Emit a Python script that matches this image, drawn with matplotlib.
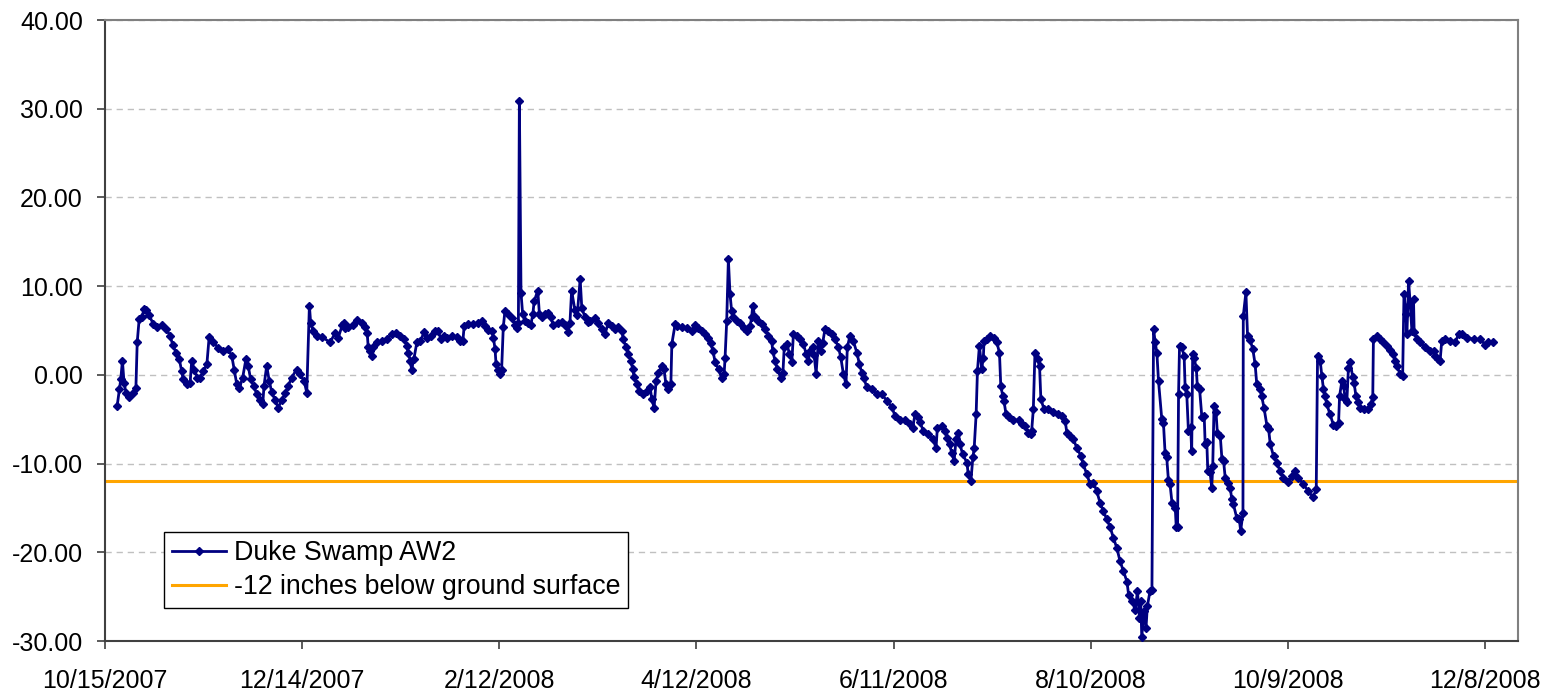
import datetime as dt
import numpy as np
import matplotlib
matplotlib.use("Agg")
import matplotlib.pyplot as plt
import matplotlib.dates as mdates
from matplotlib.ticker import FixedLocator, FuncFormatter

# well record: days since 10/15/2007 and water level (inches)
start = dt.datetime(2007, 10, 15)
day = [
    3.7, 4.4, 4.8, 5.3, 5.8, 6.4, 7.4, 8.4, 9.4, 9.8,
    10.4, 11.2, 11.9, 12.5, 13.5, 14.7, 15.9, 17.3, 18.6, 19.8,
    20.6, 21.6, 22.6, 23.3, 23.8, 24.9, 25.9, 26.4, 27.2, 28.1,
    28.9, 29.9, 31.0, 31.7, 33.0, 34.5, 36.0, 37.5, 38.6, 39.3,
    40.1, 40.9, 41.9, 42.9, 43.6, 44.3, 45.3, 46.2, 47.2, 48.0,
    48.4, 49.2, 50.0, 50.7, 51.7, 52.7, 53.8, 54.8, 55.8, 56.8,
    58.3, 59.3, 60.6, 61.4, 62.2, 62.6, 63.4, 64.4, 66.0, 68.5,
    70.0, 71.0, 72.2, 72.7, 73.0, 74.0, 75.6, 76.8, 78.1, 79.1,
    79.8, 80.1, 80.7, 81.2, 81.7, 82.7, 84.2, 85.7, 87.3, 88.6,
    89.8, 91.0, 91.8, 92.3, 92.9, 93.3, 94.0, 94.9, 95.9, 97.2,
    98.1, 99.1, 100.4, 101.4, 102.2, 103.2, 104.2, 105.5, 107.0, 108.0,
    108.9, 109.3, 110.6, 112.1, 113.6, 114.6, 115.7, 116.7, 117.7, 118.2,
    118.7, 119.0, 119.7, 120.2, 120.7, 121.2, 121.7, 122.7, 123.8, 124.8,
    125.3, 125.8, 126.1, 126.6, 127.1, 127.8, 128.8, 129.6, 130.2, 130.6,
    131.7, 132.2, 132.9, 133.9, 134.9, 135.6, 136.4, 138.0, 139.0, 140.0,
    141.0, 141.5, 142.0, 143.0, 143.7, 144.6, 145.1, 146.1, 147.1, 147.6,
    149.1, 150.1, 151.2, 152.2, 153.2, 154.2, 155.2, 156.2, 157.3, 157.7,
    158.6, 159.3, 160.0, 160.6, 161.0, 161.8, 162.6, 163.6, 164.9, 165.9,
    166.4, 167.1, 167.7, 168.4, 169.4, 170.1, 170.7, 171.4, 172.2, 172.5,
    173.5, 174.2, 175.5, 177.0, 178.6, 179.6, 180.6, 181.6, 182.6, 183.6,
    184.3, 185.0, 185.7, 186.7, 187.7, 188.4, 188.7, 189.2, 189.7, 190.2,
    190.7, 191.2, 192.3, 193.3, 194.5, 195.5, 196.3, 196.8, 197.1, 197.8,
    198.8, 199.9, 200.9, 201.9, 202.9, 203.2, 203.9, 204.6, 205.6, 206.3,
    206.7, 207.5, 208.3, 209.0, 209.5, 210.5, 211.5, 212.5, 213.4, 214.0,
    214.6, 215.4, 215.8, 216.4, 217.1, 217.8, 218.4, 219.1, 220.1, 221.2,
    222.2, 223.2, 223.9, 224.7, 225.5, 225.9, 226.7, 227.7, 228.8, 229.6,
    230.3, 231.0, 231.8, 233.3, 234.9, 236.4, 237.9, 239.4, 240.4, 242.0,
    243.5, 245.0, 245.8, 246.5, 247.5, 248.0, 249.0, 250.6, 251.9, 252.9,
    253.3, 254.6, 255.7, 256.2, 257.0, 257.7, 258.4, 259.0, 259.7, 260.2,
    261.0, 262.3, 262.7, 263.5, 264.1, 264.5, 265.1, 265.5, 266.1, 266.8,
    267.3, 267.5, 268.3, 269.3, 270.4, 271.4, 272.2, 272.6, 273.2, 273.6,
    274.2, 275.2, 276.4, 278.0, 279.0, 280.0, 281.0, 281.7, 282.0, 282.5,
    283.0, 283.8, 284.4, 284.8, 285.8, 287.1, 288.6, 290.1, 291.2, 292.2,
    292.7, 293.7, 294.7, 295.7, 297.0, 297.7, 298.8, 299.8, 300.8, 301.8,
    302.8, 303.8, 304.9, 305.9, 306.9, 307.9, 308.9, 309.9, 311.0, 311.5,
    312.5, 313.5, 314.2, 314.8, 315.2, 315.5, 316.2, 316.8, 317.2, 318.0,
    318.6, 319.1, 319.6, 320.1, 320.6, 321.6, 322.1, 322.6, 323.1, 323.6,
    324.1, 324.7, 325.7, 326.0, 326.4, 326.7, 327.0, 327.7, 328.4, 328.7,
    329.2, 329.7, 330.4, 330.7, 331.0, 331.4, 332.1, 332.4, 333.1, 333.8,
    334.5, 334.8, 335.3, 335.6, 336.3, 336.8, 337.1, 337.5, 338.1, 338.5,
    339.4, 339.9, 340.4, 340.9, 341.9, 342.4, 342.9, 343.4, 344.4, 345.2,
    345.6, 346.3, 346.4, 347.2, 347.7, 348.5, 349.3, 350.0, 350.5, 351.5,
    352.0, 352.7, 353.6, 354.1, 354.6, 355.6, 356.6, 357.6, 358.6, 360.1,
    361.2, 362.2, 363.2, 364.7, 366.2, 367.6, 368.6, 369.0, 369.8, 370.3,
    370.8, 371.3, 371.8, 372.8, 373.8, 374.6, 375.4, 375.7, 376.4, 376.9,
    377.4, 377.9, 378.4, 378.9, 379.7, 380.1, 380.7, 381.4, 382.0, 383.0,
    384.5, 385.2, 385.8, 386.0, 387.0, 388.0, 389.0, 390.1, 391.1, 392.1,
    392.6, 393.1, 394.1, 394.9, 395.3, 395.9, 396.2, 396.7, 397.2, 397.7,
    398.2, 398.4, 399.2, 400.2, 401.8, 403.3, 404.3, 404.8, 405.8, 406.3,
    406.8, 407.8, 409.4, 410.9, 411.9, 412.9, 414.4, 416.5, 418.5, 420.0,
    421.0, 422.5,
]
level = [
    -3.5, -1.6, -0.5, 1.6, -0.9, -2.0, -2.5, -2.1, -1.5, 3.65,
    6.3, 6.5, 7.4, 7.3, 6.7, 5.7, 5.4, 5.6, 5.2, 4.4,
    3.4, 2.5, 1.8, 0.45, -0.5, -1.05, -0.9, 1.6, 0.6, -0.3,
    -0.3, 0.4, 1.2, 4.3, 3.7, 3.0, 2.7, 2.9, 2.1, 0.6,
    -1.05, -1.5, -0.3, 1.8, 1.0, -0.5, -1.3, -2.2, -2.8, -3.3,
    -1.2, 1.0, -0.7, -1.9, -2.8, -3.7, -2.8, -2.1, -1.2, -0.3,
    0.6, 0.1, -0.7, -2.0, 7.8, 5.8, 4.9, 4.4, 4.3, 3.65,
    4.7, 4.2, 5.6, 5.9, 5.3, 5.4, 5.6, 6.2, 5.8, 5.4,
    4.7, 3.1, 2.7, 2.1, 3.1, 3.65, 3.8, 4.0, 4.6, 4.75,
    4.4, 4.0, 3.3, 2.5, 1.6, 0.6, 1.8, 3.65, 3.8, 4.85,
    4.2, 4.4, 5.0, 5.0, 4.0, 4.4, 4.2, 4.4, 4.3, 3.8,
    3.8, 5.5, 5.7, 5.7, 5.9, 6.1, 5.5, 5.1, 5.0, 4.2,
    2.9, 1.2, 0.6, 0.1, 0.6, 5.35, 7.2, 6.9, 6.4, 5.65,
    5.3, 5.8, 30.9, 9.2, 6.85, 6.1, 5.8, 5.65, 6.85, 8.3,
    9.5, 6.85, 6.5, 6.85, 7.0, 6.5, 5.65, 5.8, 6.0, 5.65,
    4.8, 5.9, 9.5, 7.3, 6.7, 10.8, 7.5, 6.5, 6.0, 6.1,
    6.4, 5.9, 5.15, 4.65, 5.9, 5.5, 5.15, 5.4, 5.0, 4.0,
    3.1, 2.35, 1.6, 0.65, -0.2, -1.05, -1.8, -2.2, -1.8, -1.4,
    -2.75, -3.7, -0.7, 0.25, 1.0, 0.65, -1.05, -1.6, -1.05, 3.5,
    5.7, 5.5, 5.4, 5.25, 5.0, 5.6, 5.25, 5.0, 4.6, 4.1,
    3.6, 2.7, 1.4, 0.65, -0.4, 0.05, 1.95, 6.1, 13.05, 9.1,
    7.2, 6.5, 6.1, 5.8, 5.25, 5.0, 5.5, 6.5, 7.8, 6.5,
    6.1, 5.75, 5.15, 4.4, 3.8, 2.7, 1.6, 0.65, -0.3, 0.2,
    3.1, 3.5, 2.35, 1.4, 4.6, 4.4, 4.0, 3.5, 2.35, 1.6,
    2.7, 3.1, 2.2, 0.15, 3.85, 2.7, 3.6, 5.15, 5.0, 4.6,
    4.0, 3.1, 2.0, 0.1, -1.05, 3.1, 4.4, 3.85, 2.5, 1.2,
    0.25, -0.4, -1.4, -1.6, -2.2, -2.2, -2.9, -3.6, -4.6, -5.1,
    -5.1, -5.5, -5.95, -4.45, -4.8, -5.3, -6.3, -6.7, -7.25, -8.2,
    -5.95, -5.8, -6.3, -7.1, -7.85, -8.8, -9.7, -7.25, -6.5, -7.85,
    -8.95, -9.9, -11.2, -12.0, -9.3, -8.3, -4.45, 0.45, 3.3, 0.7,
    1.95, 3.85, 4.05, 4.4, 4.2, 3.65, 2.5, -1.25, -2.35, -3.0,
    -4.45, -4.8, -5.1, -5.1, -5.5, -5.8, -6.5, -6.7, -6.3, -3.9,
    2.5, 1.8, 1.0, -2.75, -3.9, -3.9, -4.2, -4.4, -4.6, -5.2,
    -6.5, -6.9, -7.25, -8.2, -9.15, -10.1, -11.2, -12.35, -12.15, -13.1,
    -14.4, -15.35, -16.3, -17.2, -18.4, -19.5, -21.0, -22.1, -23.3, -24.8,
    -25.5, -26.5, -24.4, -27.4, -25.5, -29.5, -26.6, -28.5, -26.1, -24.4,
    -24.3, 5.15, 3.65, 2.5, -0.7, -5.0, -5.4, -8.8, -9.3, -11.8,
    -12.3, -14.4, -15.0, -17.2, -17.2, -2.2, 3.3, 3.1, 2.1, -1.4,
    -2.2, -6.3, -5.9, -8.6, 2.35, 1.9, 0.8, -1.25, -1.6, -4.8,
    -4.6, -7.8, -7.6, -10.85, -11.0, -12.7, -10.3, -3.5, -4.2, -6.5,
    -6.9, -9.5, -9.7, -11.6, -12.2, -12.7, -14.0, -14.6, -16.1, -16.3,
    -17.6, -15.55, 6.65, 9.3, 4.4, 3.9, 2.9, 1.2, -1.05, -1.6,
    -2.4, -3.7, -5.75, -6.1, -7.8, -9.15, -9.9, -10.85, -11.6, -12.1,
    -11.4, -10.85, -11.6, -12.35, -13.1, -13.8, -12.9, 2.1, 1.6, -0.1,
    -1.6, -2.4, -3.3, -4.45, -5.6, -5.75, -5.4, -2.4, -0.7, -1.2,
    -2.7, -3.1, 0.8, 1.4, -0.2, -0.9, -2.4, -3.1, -3.7, -3.85,
    -3.85, -3.3, -2.55, 4.0, 4.4, 4.0, 3.65, 3.3, 2.8, 2.35,
    1.6, 1.05, 0.1, -0.1, 9.1, 6.85, 4.6, 10.6, 8.0, 5.0,
    8.55, 4.85, 4.0, 3.65, 3.1, 2.7, 2.7, 2.1, 1.75, 1.6,
    3.85, 4.0, 3.85, 3.65, 4.6, 4.6, 4.2, 4.0, 4.0, 3.4,
    3.7, 3.75,
]
ground_level = -12.0
tick_days = [0, 60, 120, 180, 240, 300, 360, 420]
y_ticks = [-30, -20, -10, 0, 10, 20, 30, 40]
series_label = "Duke Swamp AW2"
ref_label = "-12 inches below ground surface"

plt.rcParams['font.family'] = ['Liberation Sans', 'DejaVu Sans']

fig = plt.figure(figsize=(15.55, 6.96), dpi=100)
ax = fig.add_axes([105 / 1555, 1 - 641 / 696, 1413 / 1555, 621 / 696])

t0 = mdates.date2num(start)
x = t0 + np.asarray(day)

ax.plot(x, level, color='#000080', lw=2.0, marker='D', ms=4.3,
        label=series_label, zorder=3)
ax.axhline(ground_level, color='#FFA500', lw=2.2, label=ref_label, zorder=2)

ax.set_xlim(t0, t0 + 430)
ax.set_ylim(-30, 40)
ax.xaxis.set_major_locator(FixedLocator([t0 + d for d in tick_days]))
ax.xaxis.set_major_formatter(FuncFormatter(
    lambda v, pos: "{0.month}/{0.day}/{0.year}".format(mdates.num2date(v))))
ax.yaxis.set_major_locator(FixedLocator(y_ticks))
ax.yaxis.set_major_formatter(FuncFormatter(lambda v, pos: "%.2f" % v))

ax.yaxis.grid(True, color='#c0c0c0', lw=1, ls=(0, (4.5, 3.5)))
ax.set_axisbelow(True)

for side in ('top', 'right'):
    ax.spines[side].set_color('#808080')
    ax.spines[side].set_linewidth(1.5)
ax.spines['left'].set_color('#404040')
ax.spines['left'].set_linewidth(1.5)
ax.spines['bottom'].set_color('#404040')
ax.spines['bottom'].set_linewidth(1.5)

ax.tick_params(axis='both', direction='out', length=6, width=1.2,
               colors='#404040', labelcolor='black', labelsize=18)
ax.tick_params(axis='y', pad=10)
ax.tick_params(axis='x', pad=14)

leg = ax.legend(loc='upper left', bbox_to_anchor=(59 / 1413, 109 / 621),
                borderaxespad=0, fontsize=19.3, frameon=True, fancybox=False,
                edgecolor='black', framealpha=1, handlelength=2.0,
                handletextpad=0.3, borderpad=0.3, labelspacing=0.3)
leg.get_frame().set_linewidth(1.0)

fig.savefig('out.png', dpi=100)
